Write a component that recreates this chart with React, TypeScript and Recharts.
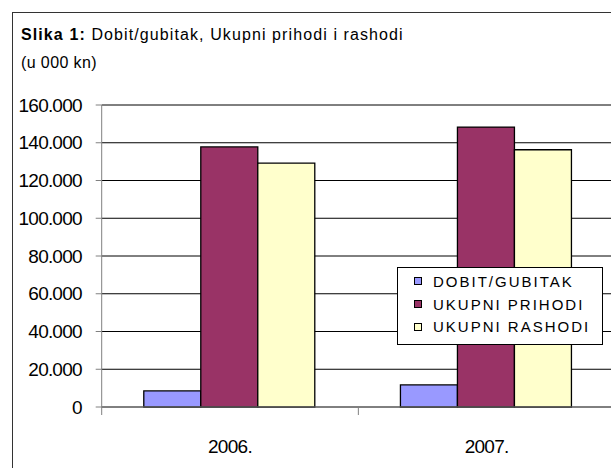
import { Bar, BarChart, CartesianGrid, Legend, XAxis, YAxis } from 'recharts';

const years = ['2006.', '2007.'];
const dobitGubitak = [8500, 11700];
const ukupniPrihodi = [137800, 148300];
const ukupniRashodi = [129200, 136300];
const yTicks = [0, 20000, 40000, 60000, 80000, 100000, 120000, 140000, 160000];

const seriesNames = ['DOBIT/GUBITAK', 'UKUPNI PRIHODI', 'UKUPNI RASHODI'];
const seriesColors = ['#9999FF', '#993366', '#FFFFCC'];

const chartData = years.map((year, i) => ({
  year,
  dobit: dobitGubitak[i],
  prihodi: ukupniPrihodi[i],
  rashodi: ukupniRashodi[i],
}));

const font = '"Liberation Sans", Arial, sans-serif';

const formatThousands = (v: number) =>
  String(v).replace(/\B(?=(\d{3})+(?!\d))/g, '.');

const YTick = (props: any) => {
  const { x, y, payload } = props;
  return (
    <text
      x={x}
      y={y}
      textAnchor="end"
      dominantBaseline="central"
      fontFamily={font}
      fontSize={19}
      letterSpacing={-0.8}
      fill="#000"
    >
      {formatThousands(payload.value)}
    </text>
  );
};

const XTick = (props: any) => {
  const { x, y, payload, width, visibleTicksCount, index } = props;
  const half =
    payload.offset ?? width / (2 * (visibleTicksCount || years.length));
  return (
    <g>
      <line x1={x - half} x2={x - half} y1={y} y2={y + 8} stroke="#808080" />
      {index === visibleTicksCount - 1 && (
        <line x1={x + half} x2={x + half} y1={y} y2={y + 8} stroke="#808080" />
      )}
      <text
        x={x}
        y={y + 39}
        textAnchor="middle"
        dominantBaseline="central"
        fontFamily={font}
        fontSize={19}
        letterSpacing={-0.7}
        fill="#000"
      >
        {payload.value}
      </text>
    </g>
  );
};

// legend wrapper has no size, so the chart does not reserve room for it
const LegendBox = () => (
  <div
    style={{
      position: 'absolute',
      left: 0,
      top: 0,
      width: 206,
      height: 78,
      boxSizing: 'border-box',
      border: '1px solid #000',
      background: '#fff',
      paddingTop: 2,
      fontFamily: font,
      fontSize: 15,
      letterSpacing: 2,
      color: '#000',
    }}
  >
    {seriesNames.map((name, i) => (
      <div
        key={name}
        style={{ height: 22.7, display: 'flex', alignItems: 'center' }}
      >
        <span
          style={{
            display: 'inline-block',
            width: 8,
            height: 8,
            boxSizing: 'border-box',
            border: '1px solid #000',
            background: seriesColors[i],
            marginLeft: 16,
            marginRight: 11,
          }}
        />
        <span style={{ lineHeight: '17px', whiteSpace: 'nowrap' }}>{name}</span>
      </div>
    ))}
  </div>
);

export default function App() {
  return (
    <div
      style={{
        position: 'absolute',
        left: 0,
        top: 0,
        width: 611,
        height: 468,
        overflow: 'hidden',
        background: '#fff',
      }}
    >
      <div
        style={{
          position: 'absolute',
          left: 12,
          top: 12,
          width: 640,
          height: 500,
          borderLeft: '1.5px solid #333',
          borderTop: '1.5px solid #333',
        }}
      />
      <div
        style={{
          position: 'absolute',
          left: 21,
          top: 26,
          fontFamily: font,
          fontSize: 16,
          letterSpacing: 1.1,
          lineHeight: '17px',
          whiteSpace: 'nowrap',
          color: '#000',
        }}
      >
        <b>Slika 1:</b> Dobit/gubitak, Ukupni prihodi i rashodi
      </div>
      <div
        style={{
          position: 'absolute',
          left: 21,
          top: 54,
          fontFamily: font,
          fontSize: 16,
          letterSpacing: 0.4,
          lineHeight: '17px',
          whiteSpace: 'nowrap',
          color: '#000',
        }}
      >
        (u 000 kn)
      </div>
      <div style={{ position: 'absolute', left: 0, top: 0 }}>
        <BarChart
          width={620}
          height={468}
          data={chartData}
          margin={{ top: 105, right: 5, bottom: 21, left: 11.7 }}
          barCategoryGap="16.4%"
          barGap={0}
        >
          <CartesianGrid vertical={false} stroke="#000" />
          <XAxis
            dataKey="year"
            height={40}
            tickLine={false}
            tickSize={0}
            tickMargin={0}
            axisLine={{ stroke: '#808080' }}
            tick={<XTick />}
            interval={0}
          />
          <YAxis
            width={90}
            domain={[0, 160000]}
            ticks={yTicks}
            interval={0}
            tickSize={6}
            tickMargin={14}
            axisLine={{ stroke: '#808080' }}
            tickLine={{ stroke: '#808080' }}
            tick={<YTick />}
          />
          <Legend
            content={<LegendBox />}
            wrapperStyle={{
              left: 397,
              top: 267,
              width: 0,
              height: 0,
              bottom: 'auto',
              overflow: 'visible',
            }}
          />
          <Bar
            dataKey="dobit"
            name={seriesNames[0]}
            fill={seriesColors[0]}
            stroke="#000"
            strokeWidth={1.3}
            isAnimationActive={false}
          />
          <Bar
            dataKey="prihodi"
            name={seriesNames[1]}
            fill={seriesColors[1]}
            stroke="#000"
            strokeWidth={1.3}
            isAnimationActive={false}
          />
          <Bar
            dataKey="rashodi"
            name={seriesNames[2]}
            fill={seriesColors[2]}
            stroke="#000"
            strokeWidth={1.3}
            isAnimationActive={false}
          />
        </BarChart>
      </div>
    </div>
  );
}
